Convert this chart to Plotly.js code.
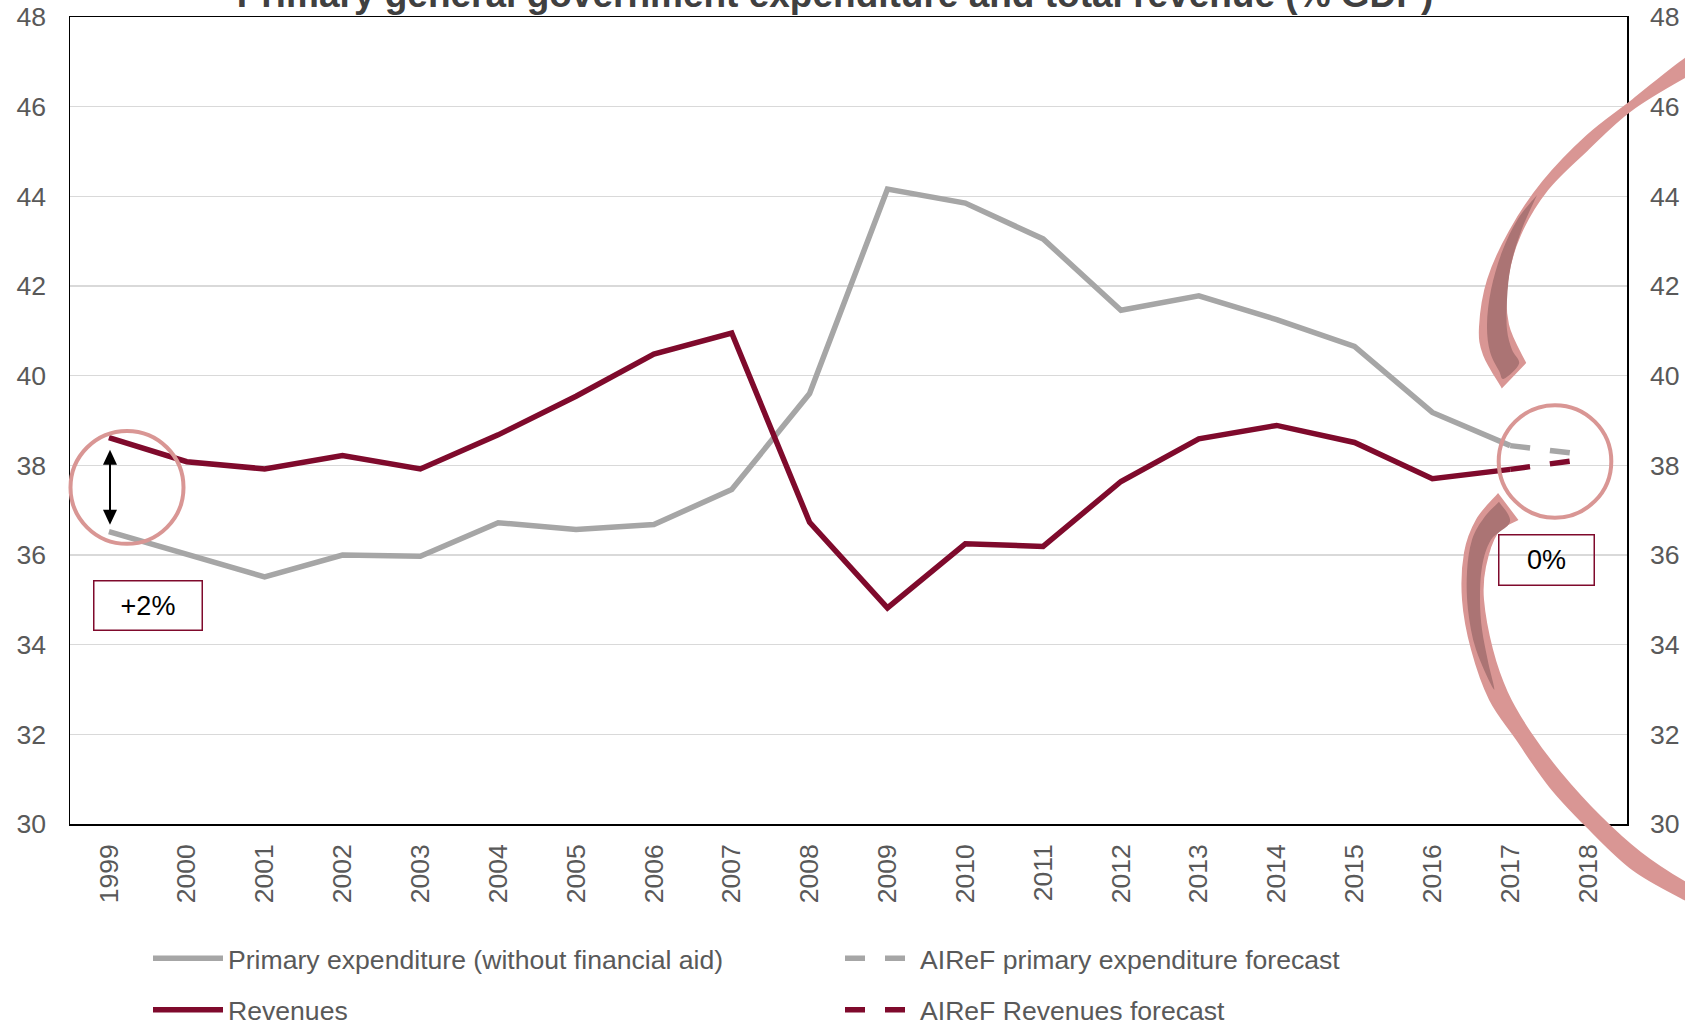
<!DOCTYPE html>
<html>
<head>
<meta charset="utf-8">
<script src="https://cdn.plot.ly/plotly-3.0.1.min.js"></script>
<style>
html,body{margin:0;padding:0;background:#fff;}
#chart{width:1685px;height:1025px;}
</style>
</head>
<body>
<div id="chart"></div>
<script>
// ---------------- data ----------------
const years = ['1999','2000','2001','2002','2003','2004','2005','2006','2007','2008',
               '2009','2010','2011','2012','2013','2014','2015','2016','2017','2018'];
const histYears = years.slice(0, 19);          // 1999-2017
const forecastYears = ['2017', '2018'];

const primaryExpenditure = [36.52, 36.03, 35.51, 36.00, 35.97, 36.72, 36.57, 36.68, 37.46, 39.60,
                            44.16, 43.85, 43.05, 41.46, 41.78, 41.25, 40.65, 39.18, 38.44];
const expenditureForecast = [38.44, 38.23];

const revenues = [38.62, 38.08, 37.92, 38.22, 37.92, 38.68, 39.54, 40.48, 40.95, 36.73,
                  34.82, 36.25, 36.19, 37.64, 38.59, 38.89, 38.51, 37.70, 37.91];
const revenuesForecast = [37.91, 38.15];

const seriesNames = ['Primary expenditure (without financial aid)', 'AIReF primary expenditure forecast',
                     'Revenues', 'AIReF Revenues forecast'];
const yTicks = [30, 32, 34, 36, 38, 40, 42, 44, 46, 48];
const titleText = 'Primary general government expenditure and total revenue (% GDP)';
const boxLabels = ['+2%', '0%'];

// ---------------- style ----------------
const GREY = '#a6a6a6';
const MAROON = '#7f0a2c';
const PINK = '#d99694';
const DARKPINK = '#ab7474';
const FONT = 'Liberation Sans, Arial, sans-serif';
const FS = 26.6;
const TICKC = '#595959';

// plot area in pixels (for decorations)
const L = 70, R = 1627, T = 17, B = 824.5, W = 1685, H = 1025;
const px = x => (x - L) / (R - L);
const py = y => (B - y) / (B - T);
const P = p => px(p[0]).toFixed(5) + ',' + py(p[1]).toFixed(5);

function smoothSeg(pts, start) {
  let d = start ? 'M' + P(pts[0]) : 'L' + P(pts[0]);
  for (let i = 0; i < pts.length - 1; i++) {
    const p0 = pts[i - 1] || pts[i], p1 = pts[i], p2 = pts[i + 1], p3 = pts[i + 2] || pts[i + 1];
    const c1 = [p1[0] + (p2[0] - p0[0]) / 6, p1[1] + (p2[1] - p0[1]) / 6];
    const c2 = [p2[0] - (p3[0] - p1[0]) / 6, p2[1] - (p3[1] - p1[1]) / 6];
    d += 'C' + P(c1) + ' ' + P(c2) + ' ' + P(p2);
  }
  return d;
}
function band(edgeA, edgeB) { return smoothSeg(edgeA, true) + smoothSeg(edgeB, false) + 'Z'; }
function poly(pts) { return smoothSeg(pts, true) + 'Z'; }

// upper curved arrow
const upOuter = [[1710,48],[1685,59],[1633,100],[1587,136],[1543,182],[1510,231],[1488,280],[1480,327],[1484,355],[1502,387]];
const upInner = [[1525,363],[1508,325],[1507,281],[1520,235],[1547,190],[1587,150],[1630,111],[1685,77],[1710,66]];
const upDark = [[1537,195],[1518,219],[1502,252],[1491,290],[1487,325],[1490,352],[1499,371],[1504,379],[1519,364],[1512,350],[1507,330],[1507,300],[1511,265],[1522,229],[1537,195]];
// lower curved arrow
const loOuter = [[1498,495],[1477,520],[1465,553],[1463,600],[1472,650],[1490,700],[1517,740],[1550,787],[1587,827],[1633,870],[1685,900],[1710,912]];
const loInner = [[1710,894],[1685,883],[1640,853],[1600,817],[1560,773],[1530,733],[1507,693],[1492,650],[1483,600],[1485,567],[1497,533],[1517,520]];
const loDark = [[1499,502],[1484,518],[1472,540],[1467,572],[1468,610],[1476,650],[1494,690],[1488,662],[1482,630],[1480,600],[1482,567],[1491,540],[1510,522],[1499,502]];

const shapes = [
  {type:'path', xref:'paper', yref:'paper', path: band(upOuter, upInner), fillcolor: PINK, line:{color: PINK, width: 2}},
  {type:'path', xref:'paper', yref:'paper', path: poly(upDark), fillcolor: DARKPINK, line:{width: 0}},
  {type:'path', xref:'paper', yref:'paper', path: band(loOuter, loInner), fillcolor: PINK, line:{color: PINK, width: 2}},
  {type:'path', xref:'paper', yref:'paper', path: poly(loDark), fillcolor: DARKPINK, line:{width: 0}},
  {type:'circle', xref:'paper', yref:'paper', x0: px(127-56.5), x1: px(127+56.5), y0: py(487.7+56.5), y1: py(487.7-56.5), line:{color: PINK, width: 4}},
  {type:'circle', xref:'paper', yref:'paper', x0: px(1555-56.3), x1: px(1555+56.3), y0: py(461.7+56.3), y1: py(461.7-56.3), line:{color: PINK, width: 4}},
  {type:'line', xref:'paper', yref:'paper', x0: px(110), x1: px(110), y0: py(462), y1: py(513), line:{color:'#000', width: 2}},
  {type:'path', xref:'paper', yref:'paper', path: 'M' + P([110,450]) + 'L' + P([103,465]) + 'L' + P([117,465]) + 'Z', fillcolor:'#000', line:{width:0}},
  {type:'path', xref:'paper', yref:'paper', path: 'M' + P([110,525]) + 'L' + P([103,510]) + 'L' + P([117,510]) + 'Z', fillcolor:'#000', line:{width:0}}
];

const annotations = [
  {xref:'paper', yref:'paper', x: px(147.7), y: py(605.5), xanchor:'center', yanchor:'middle', text: boxLabels[0], showarrow:false,
   font:{family: FONT, size: 27, color:'#000'}, bordercolor: MAROON, borderwidth: 1.5, borderpad: 1, width: 105, height: 46},
  {xref:'paper', yref:'paper', x: px(1546), y: py(560), xanchor:'center', yanchor:'middle', text: boxLabels[1], showarrow:false,
   font:{family: FONT, size: 27, color:'#000'}, bordercolor: MAROON, borderwidth: 1.5, borderpad: 1, width: 92, height: 47}
];

const traces = [
  {x: histYears, y: primaryExpenditure, name: seriesNames[0], type:'scatter', mode:'lines', line:{color: GREY, width: 5.5}, legend:'legend'},
  {x: forecastYears, y: expenditureForecast, name: seriesNames[1], type:'scatter', mode:'lines', line:{color: GREY, width: 5.5, dash:'20px,20px'}, legend:'legend'},
  {x: histYears, y: revenues, name: seriesNames[2], type:'scatter', mode:'lines', line:{color: MAROON, width: 5.5}, legend:'legend2'},
  {x: forecastYears, y: revenuesForecast, name: seriesNames[3], type:'scatter', mode:'lines', line:{color: MAROON, width: 5.5, dash:'20px,20px'}, legend:'legend2'},
  // invisible trace to drive the right-hand axis
  {x: years, y: years.map(() => null), yaxis:'y2', type:'scatter', mode:'lines', showlegend:false, hoverinfo:'skip'}
];

const tickFont = {family: FONT, size: FS, color: TICKC};
const legendCommon = {orientation:'h', xref:'container', yref:'container', xanchor:'left', yanchor:'middle',
  font:{family: FONT, size: FS, color: TICKC}, itemwidth: 70, entrywidth: 607, entrywidthmode:'pixels',
  bgcolor:'rgba(0,0,0,0)', borderwidth: 0, traceorder:'normal'};

const layout = {
  width: W, height: H,
  margin: {l: L, r: W - R, t: T, b: H - B, pad: 0},
  paper_bgcolor:'#fff', plot_bgcolor:'#fff',
  title: {text: titleText, font:{family: FONT, size: 37, color:'#404040', weight:'bold'},
          xref:'container', x: 835 / W, xanchor:'center', yref:'container', y: 1 - 7 / H, yanchor:'bottom'},
  xaxis: {type:'category', categoryorder:'array', categoryarray: years, range:[-0.5, 19.5],
          tickangle: -90, tickfont: tickFont, showgrid:false, zeroline:false,
          showline:true, linecolor:'#000', linewidth: 1.5, mirror:true, ticks:'', ticklabelstandoff: 8, fixedrange:true},
  yaxis: {range:[30, 48], tickvals: yTicks, ticktext: yTicks.map(String), tickfont: tickFont,
          showgrid:true, gridcolor:'#d9d9d9', gridwidth: 1.3, zeroline:false,
          showline:true, linecolor:'#000', linewidth: 1.5, mirror:true, ticks:'', ticklabelstandoff: 17, fixedrange:true},
  yaxis2: {overlaying:'y', side:'right', range:[30, 48], tickvals: yTicks, ticktext: yTicks.map(String), tickfont: tickFont,
           showgrid:false, zeroline:false, showline:false, ticks:'', ticklabelstandoff: 22, fixedrange:true},
  legend: Object.assign({}, legendCommon, {x: 148 / W, y: 1 - 958.5 / H}),
  legend2: Object.assign({}, legendCommon, {x: 148 / W, y: 1 - 1010 / H}),
  shapes: shapes,
  annotations: annotations,
  showlegend: true
};

Plotly.newPlot('chart', traces, layout, {displayModeBar:false, staticPlot:true});
</script>
</body>
</html>
